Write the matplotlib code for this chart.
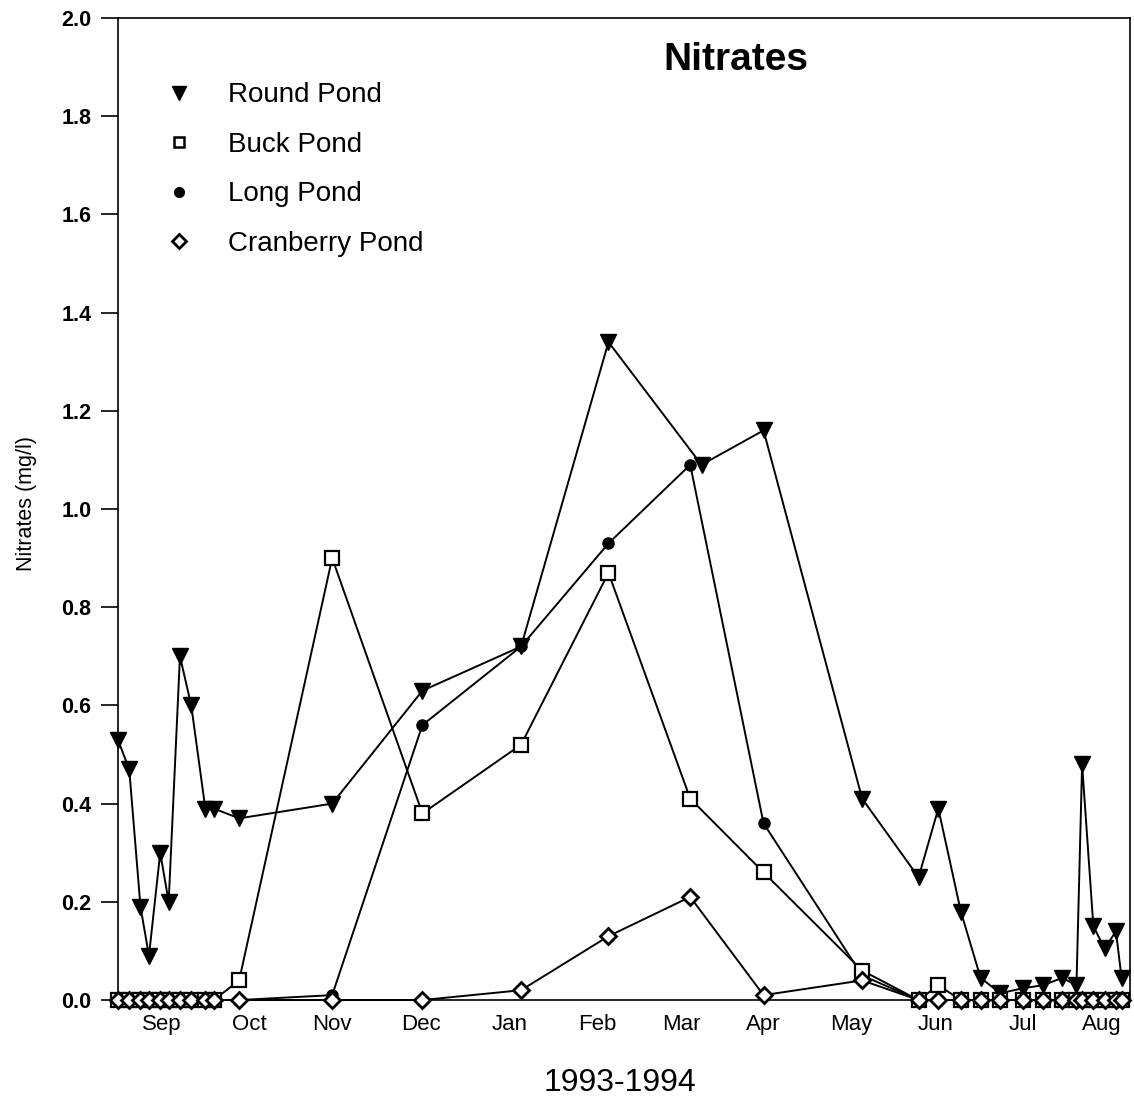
import matplotlib
matplotlib.use("Agg")
import matplotlib.pyplot as plt
from matplotlib.lines import Line2D

plt.rcParams['font.family'] = ['Liberation Sans', 'DejaVu Sans']

# sampling dates, days since 1 Sep 1993
dates = [0, 4, 8, 11, 15, 18, 22, 26, 31, 34, 43, 76, 108, 143, 174, 203, 229,
         264, 284, 291, 299, 306, 313, 321, 328, 335, 340, 342, 346, 350, 354, 356]
round_dates = [0, 4, 8, 11, 15, 18, 22, 26, 31, 34, 43, 76, 108, 143, 174, 207, 229,
               264, 284, 291, 299, 306, 313, 321, 328, 335, 340, 342, 346, 350, 354, 356]

round_pond = [0.53, 0.47, 0.19, 0.09, 0.30, 0.20, 0.70, 0.60, 0.39, 0.39, 0.37, 0.40,
              0.63, 0.72, 1.34, 1.09, 1.16, 0.41, 0.25, 0.39, 0.18, 0.045, 0.014, 0.024,
              0.03, 0.045, 0.03, 0.48, 0.15, 0.105, 0.14, 0.045]
buck_pond = [0, 0, 0, 0, 0, 0, 0, 0, 0, 0, 0.04, 0.90, 0.38, 0.52, 0.87, 0.41, 0.26,
             0.06, 0.0, 0.03, 0, 0, 0, 0, 0, 0, 0, 0, 0, 0, 0, 0]
long_pond = [0, 0, 0, 0, 0, 0, 0, 0, 0, 0, 0, 0.01, 0.56, 0.72, 0.93, 1.09, 0.36,
             0.05, 0, 0, 0, 0, 0, 0, 0, 0, 0, 0, 0, 0, 0, 0]
cranberry_pond = [0, 0, 0, 0, 0, 0, 0, 0, 0, 0, 0, 0, 0, 0.02, 0.13, 0.21, 0.01,
                  0.04, 0, 0, 0, 0, 0, 0, 0, 0, 0, 0, 0, 0, 0, 0]

months = ['Sep', 'Oct', 'Nov', 'Dec', 'Jan', 'Feb', 'Mar', 'Apr', 'May', 'Jun', 'Jul', 'Aug']
month_mid = [15.5, 46.5, 76, 107.5, 139, 170, 200, 229, 260, 290, 321, 349]

fig = plt.figure(figsize=(11.34, 11.01), dpi=100)
ax = fig.add_axes([0.104, 0.0917, 0.8925, 0.892])

lw = 1.4
ax.plot(round_dates, round_pond, color='black', lw=lw, marker='v', ms=12,
        mfc='black', mec='black', zorder=3, clip_on=False)
ax.plot(dates, long_pond, color='black', lw=lw, marker='o', ms=8,
        mfc='black', mec='black', zorder=4, clip_on=False)
ax.plot(dates, buck_pond, color='black', lw=lw, marker='s', ms=9.5,
        mfc='white', mec='black', mew=1.6, zorder=5, clip_on=False)
ax.plot(dates, cranberry_pond, color='black', lw=lw, marker='D', ms=8,
        mfc='white', mec='black', mew=2.0, zorder=6, clip_on=False)

ax.set_xlim(0, 359)
ax.set_ylim(0, 2.0)
ax.set_yticks([0.0, 0.2, 0.4, 0.6, 0.8, 1.0, 1.2, 1.4, 1.6, 1.8, 2.0])
ax.set_yticklabels(['%.1f' % v for v in ax.get_yticks()], fontsize=15.5, fontweight='bold')
ax.tick_params(axis='y', direction='out', length=12, width=1.2, pad=7)
ax.set_xticks(month_mid)
ax.set_xticklabels(months, fontsize=16)
ax.tick_params(axis='x', length=0, pad=10)
for s in ax.spines.values():
    s.set_linewidth(1.2)

ax.set_ylabel('Nitrates (mg/l)', fontsize=15.5)
ax.yaxis.set_label_coords(-0.080, 0.506)
ax.set_xlabel('1993-1994', fontsize=23)
ax.xaxis.set_label_coords(0.496, -0.069)
ax.text(0.611, 0.957, 'Nitrates', transform=ax.transAxes, fontsize=28,
        fontweight='bold', ha='center', va='center')

handles = [
    Line2D([], [], ls='none', marker='v', ms=10, mfc='black', mec='black'),
    Line2D([], [], ls='none', marker='s', ms=7, mfc='white', mec='black', mew=1.8),
    Line2D([], [], ls='none', marker='o', ms=7, mfc='black', mec='black'),
    Line2D([], [], ls='none', marker='D', ms=7, mfc='white', mec='black', mew=2.0),
]
labels = ['Round Pond', 'Buck Pond', 'Long Pond', 'Cranberry Pond']
ax.legend(handles, labels, loc='upper left', bbox_to_anchor=(0.0218, 0.960),
          frameon=False, fontsize=20, labelspacing=0.85, handletextpad=1.26,
          handlelength=1.0, borderpad=0.4)

fig.savefig('out.png', dpi=100)
